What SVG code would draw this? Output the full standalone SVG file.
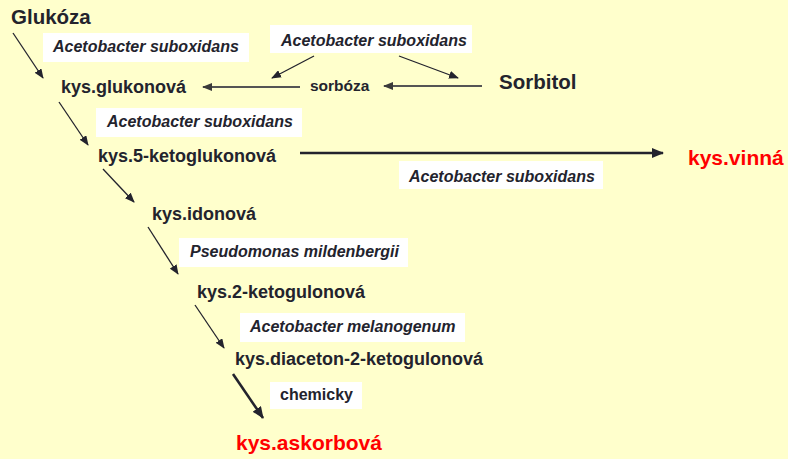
<svg xmlns="http://www.w3.org/2000/svg" width="788" height="459" viewBox="0 0 788 459">
<defs>
<style>
text{font-family:"Liberation Sans",Arial,sans-serif;font-weight:bold;fill:#23232d}
.lbl{font-size:16px;font-style:italic}
.node{font-size:18px}
.big{font-size:20.5px}
.red{font-size:21px;fill:#ff0000}
.box{fill:#ffffff}
.ln{stroke:#23232d;stroke-width:1.3;fill:none}
.gl{stroke:#555555;stroke-width:2;fill:none}
.thick{stroke:#23232d;stroke-width:2.6;fill:none}
</style>
<marker id="ah" markerUnits="userSpaceOnUse" markerWidth="10" markerHeight="8" refX="9" refY="4" orient="auto">
<path d="M0,0 L10,4 L0,8 z" fill="#23232d"/>
</marker>
<marker id="ahg" markerUnits="userSpaceOnUse" markerWidth="10" markerHeight="8" refX="9" refY="4" orient="auto">
<path d="M0,0 L10,4 L0,8 z" fill="#3a3a3a"/>
</marker>
<marker id="ahb" markerUnits="userSpaceOnUse" markerWidth="12" markerHeight="10" refX="11" refY="5" orient="auto">
<path d="M0,0 L12,5 L0,10 z" fill="#23232d"/>
</marker>
</defs>
<rect width="788" height="459" fill="#ffffcc"/>
<g id="connectors">
<line class="ln" x1="13" y1="33" x2="43" y2="78" marker-end="url(#ah)"/>
<line class="gl" x1="300" y1="87" x2="203" y2="87" marker-end="url(#ahg)"/>
<line class="gl" x1="482" y1="86" x2="384" y2="86" marker-end="url(#ahg)"/>
<line class="ln" x1="314" y1="56" x2="272" y2="78" marker-end="url(#ah)"/>
<line class="ln" x1="399" y1="56" x2="458" y2="78" marker-end="url(#ah)"/>
<line class="ln" x1="59" y1="102" x2="88" y2="145" marker-end="url(#ah)"/>
<line class="thick" x1="300" y1="153" x2="663" y2="153" marker-end="url(#ahb)"/>
<line class="ln" x1="103" y1="169" x2="134" y2="202" marker-end="url(#ah)"/>
<line class="ln" x1="148" y1="227" x2="178" y2="274" marker-end="url(#ah)"/>
<line class="ln" x1="195" y1="305" x2="224" y2="348" marker-end="url(#ah)"/>
<line class="thick" x1="233" y1="374" x2="263" y2="418" stroke-width="3" marker-end="url(#ahb)"/>
</g>
<g id="labels">
<g id="lbl1"><rect class="box" x="43" y="33" width="206" height="29"/><text class="lbl" x="53" y="52">Acetobacter suboxidans</text></g>
<g id="lbl2"><rect class="box" x="270" y="25" width="202" height="28"/><text class="lbl" x="281" y="46">Acetobacter suboxidans</text></g>
<g id="lbl3"><rect class="box" x="96" y="108" width="206" height="29"/><text class="lbl" x="107" y="127">Acetobacter suboxidans</text></g>
<g id="lbl4"><rect class="box" x="399" y="161" width="204" height="28"/><text class="lbl" x="409" y="182">Acetobacter suboxidans</text></g>
<g id="lbl5"><rect class="box" x="179" y="238" width="229" height="29"/><text class="lbl" x="190" y="257">Pseudomonas mildenbergii</text></g>
<g id="lbl6"><rect class="box" x="240" y="313" width="225" height="29"/><text class="lbl" x="250" y="332">Acetobacter melanogenum</text></g>
<g id="lbl7"><rect class="box" x="270" y="382" width="92" height="27"/><text x="280" y="400" font-size="16">chemicky</text></g>
</g>
<g id="glukoza"><text class="big" x="11" y="24">Glukóza</text></g>
<g id="glukonova"><text class="node" x="61" y="93">kys.glukonová</text></g>
<g id="sorboza"><text x="310" y="91" font-size="15.5">sorbóza</text></g>
<g id="sorbitol"><text class="big" x="499" y="89">Sorbitol</text></g>
<g id="ketoglukonova"><text class="node" x="98" y="162">kys.5-ketoglukonová</text></g>
<g id="vinna"><text class="red" x="688" y="165">kys.vinná</text></g>
<g id="idonova"><text class="node" x="152" y="220">kys.idonová</text></g>
<g id="ketogulonova"><text class="node" x="197" y="298">kys.2-ketogulonová</text></g>
<g id="diaceton"><text class="node" x="235" y="365">kys.diaceton-2-ketogulonová</text></g>
<g id="askorbova"><text class="red" x="236" y="450">kys.askorbová</text></g>
</svg>
